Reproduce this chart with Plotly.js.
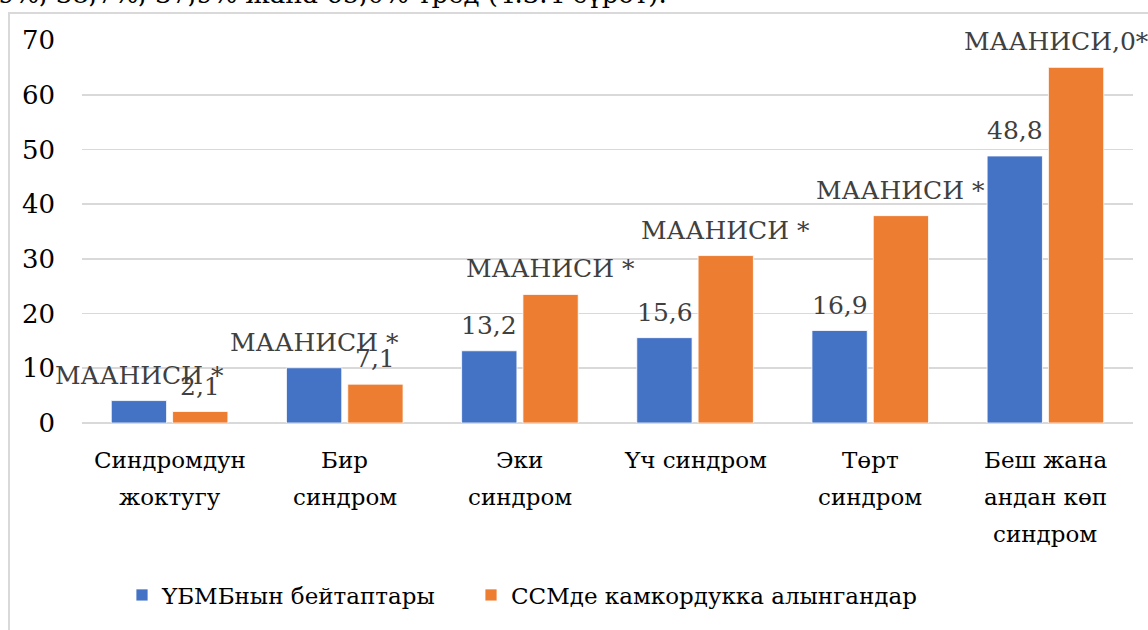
<!DOCTYPE html>
<html>
<head>
<meta charset="utf-8">
<script src="https://cdn.plot.ly/plotly-3.0.1.min.js"></script>
<style>
  html, body { margin: 0; padding: 0; background: #fff; }
  #wrap { position: relative; width: 1148px; height: 630px; overflow: hidden; }
  #chart { position: absolute; left: 0; top: 0; width: 1148px; height: 630px; }
  #frame { position: absolute; left: 8px; top: 12px; width: 1200px; height: 700px;
           border-left: 2px solid #d9d9d9; border-top: 2px solid #d9d9d9; pointer-events: none; }
</style>
</head>
<body>
<div id="wrap"><div id="chart"></div><div id="frame"></div></div>
<script>
// ---- data ----
const categories = [
  "Синдромдун<br>жоктугу",
  "Бир<br>синдром",
  "Эки<br>синдром",
  "Үч синдром",
  "Төрт<br>синдром",
  "Беш жана<br>андан көп<br>синдром"
];
const seriesNames = ["ҮБМБнын бейтаптары", "ССМде камкордукка алынгандар"];
const blueValues = [4.1, 10.1, 13.2, 15.6, 16.9, 48.8];
const orangeValues = [2.1, 7.1, 23.5, 30.6, 37.9, 65.0];
const blueLabels = ["МААНИСИ *", "МААНИСИ *", "13,2", "15,6", "16,9", "48,8"];
const orangeLabels = ["2,1", "7,1", "МААНИСИ *", "МААНИСИ *", "МААНИСИ *", "МААНИСИ,0*"];
const yTicks = [0, 10, 20, 30, 40, 50, 60, 70];
const topText = "9%, 38,7%, 37,9% жана 65,0% тред (4.3.4 сүрөт).";

// ---- style ----
const FONT = "DejaVu Serif";
const BLUE = "#4472C4", ORANGE = "#ED7D31";
const L = 82, T = 40, PW = 1051, PH = 383;
const CAT_SIZE = 23, CAT_LINE = 37, CAT_TOP = 22;

const traces = [
  { type: "bar", name: seriesNames[0], x: categories, y: blueValues, legend: "legend",
    marker: { color: BLUE, line: { color: "#ffffff", width: 0.8 } }, hoverinfo: "none" },
  { type: "bar", name: seriesNames[1], x: categories, y: orangeValues, legend: "legend2",
    marker: { color: ORANGE, line: { color: "#ffffff", width: 0.8 } }, hoverinfo: "none" }
];

const annotations = [];
const slotHalf = 30.5;
function addLabels(vals, labels, dx) {
  vals.forEach((v, i) => {
    annotations.push({
      x: categories[i], y: v, xref: "x", yref: "y",
      text: labels[i], showarrow: false,
      xanchor: "center", yanchor: "bottom", xshift: dx, yshift: 9,
      font: { family: FONT, size: 25, color: "#404040" }
    });
  });
}
addLabels(blueValues, blueLabels, -slotHalf);
addLabels(orangeValues, orangeLabels, slotHalf);
annotations[annotations.length - 1].xshift = slotHalf - 19;

// category labels, one annotation per line (wider line spacing like the original)
categories.forEach((c) => {
  c.split("<br>").forEach((line, j) => {
    annotations.push({
      x: c, y: 0, xref: "x", yref: "y",
      text: line, showarrow: false,
      xanchor: "center", yanchor: "top", yshift: -(CAT_TOP + j * CAT_LINE),
      font: { family: FONT, size: CAT_SIZE, color: "#000" }
    });
  });
});

annotations.push({
  xref: "paper", yref: "paper",
  x: (-4 - L) / PW, y: (T + PH - (-6)) / PH,
  xanchor: "left", yanchor: "middle", showarrow: false,
  text: topText, font: { family: FONT, size: 26, color: "#000" }
});

const legendBase = {
  orientation: "h", xanchor: "left",
  y: (T + PH - 595) / PH, yanchor: "middle",
  font: { family: FONT, size: 23, color: "#000" },
  bgcolor: "rgba(0,0,0,0)",
  itemclick: false, itemdoubleclick: false
};

const layout = {
  width: 1148, height: 630,
  margin: { l: L, r: 1148 - L - PW, t: T, b: 630 - T - PH, pad: 0, autoexpand: false },
  paper_bgcolor: "#ffffff", plot_bgcolor: "#ffffff",
  barmode: "group", bargap: 0.30, bargroupgap: 0.098,
  font: { family: FONT, size: 25, color: "#000" },
  xaxis: {
    type: "category", range: [-0.5, 5.5], autorange: false, automargin: false,
    showgrid: false, zeroline: false, showline: false, showticklabels: false,
    ticks: "", fixedrange: true
  },
  yaxis: {
    range: [0, 70], autorange: false, automargin: false,
    tickvals: yTicks, ticktext: yTicks.map(String),
    showgrid: true, gridcolor: "#d9d9d9", gridwidth: 1.6,
    zeroline: true, zerolinecolor: "#d9d9d9", zerolinewidth: 1.6,
    showline: false, ticks: "",
    tickfont: { family: FONT, size: 26, color: "#000" },
    ticklabelstandoff: 26, fixedrange: true
  },
  showlegend: true,
  legend: Object.assign({}, legendBase, { x: (122 - L) / PW }),
  legend2: Object.assign({}, legendBase, { x: (471 - L) / PW }),
  annotations: annotations
};

Plotly.newPlot("chart", traces, layout, { displayModeBar: false, staticPlot: true });
</script>
</body>
</html>
